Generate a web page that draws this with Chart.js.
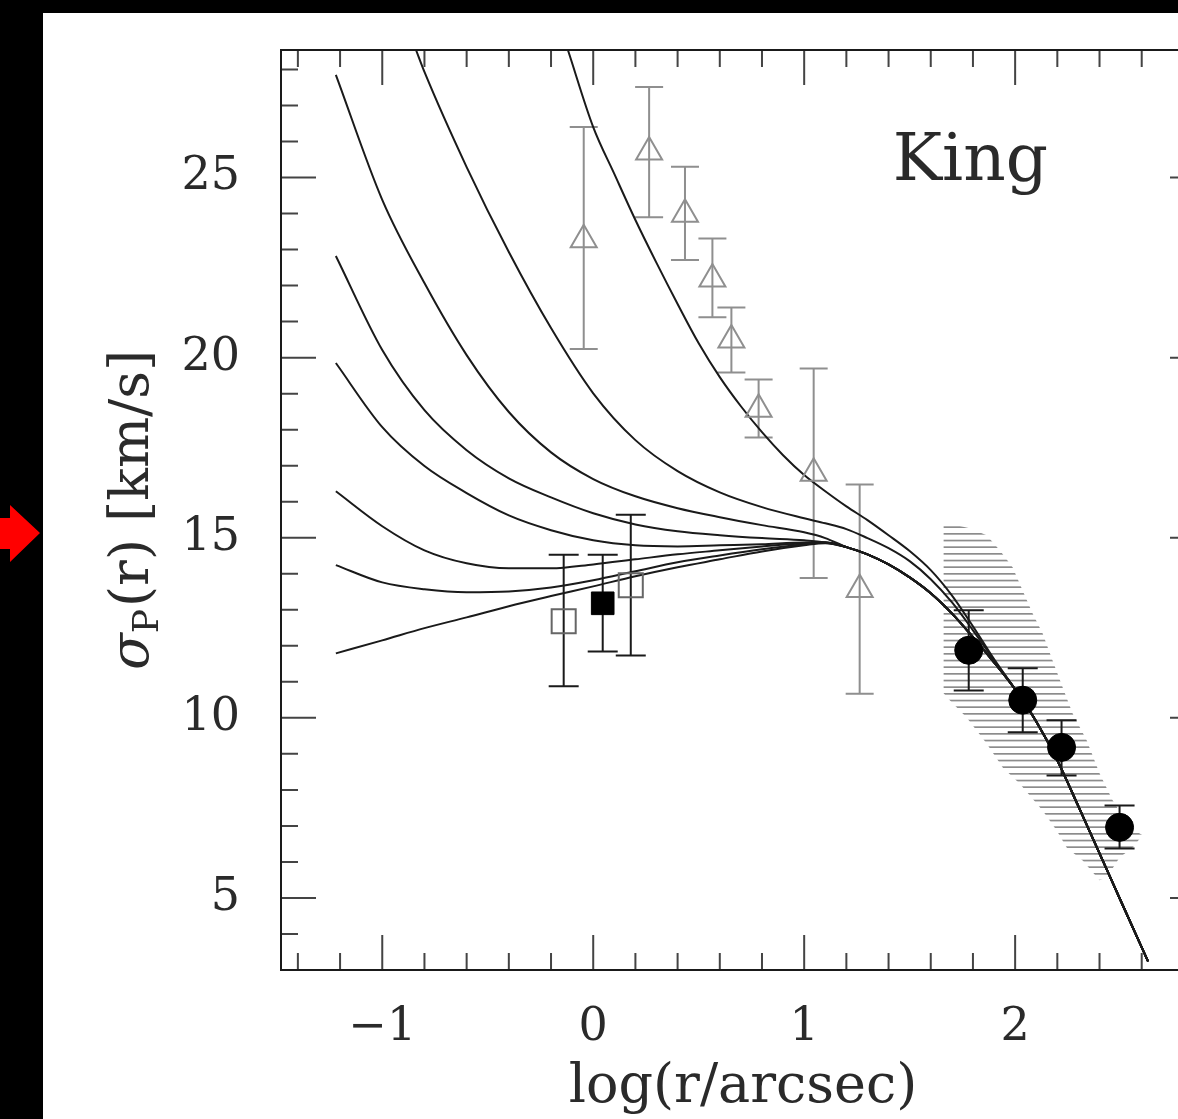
<!DOCTYPE html>
<html>
<head>
<meta charset="utf-8">
<script src="https://cdn.jsdelivr.net/npm/chart.js@4.4.1/dist/chart.umd.min.js"></script>
<style>
  html,body{margin:0;padding:0;background:#000;width:1178px;height:1119px;overflow:hidden;}
  #sheet{position:absolute;left:43px;top:13px;width:1135px;height:1106px;background:#fff;overflow:hidden;}
  #c{position:absolute;left:0;top:0;}
  #arrow{position:absolute;left:-2px;top:505px;width:42px;height:57px;background:#ff0000;
    clip-path:polygon(0 13px,12px 13px,12px 0,42px 28px,12px 57px,12px 44px,0 44px);}
</style>
</head>
<body>
<div id="arrow"></div>
<div id="sheet"><canvas id="c" width="1200" height="1106"></canvas></div>
<script>
/* 速度弥散剖面（King 模型）—— 数值按原图目测读取 */
const X_MAJOR = [-1, 0, 1, 2];
const Y_MAJOR = [5, 10, 15, 20, 25];

// 模型曲线：共用横坐标
const GRID_X  = [-1.22,-1.0,-0.8,-0.6,-0.4,-0.2,0,0.2,0.4,0.6,0.8,1.0,1.1,1.2,1.3,1.4,1.5,1.6,1.7,1.8,1.9,2.0,2.1,2.2,2.3,2.4,2.5,2.63];
const CURVE_A = [27.85,24.38,22.07,20.07,18.49,17.37,16.63,16.15,15.82,15.57,15.35,15.15,14.99,14.74,14.54,14.26,13.90,13.46,12.90,12.24,11.54,10.79,9.90,8.82,7.54,6.24,4.93,3.24];
const CURVE_D = [22.82,20.21,18.54,17.43,16.65,16.12,15.68,15.37,15.18,15.07,14.99,14.93,14.87,14.74,14.54,14.26,13.90,13.46,12.90,12.24,11.54,10.79,9.90,8.82,7.54,6.24,4.93,3.24];
const CURVE_E = [19.85,18.07,16.99,16.24,15.62,15.21,14.93,14.79,14.76,14.79,14.82,14.87,14.87,14.74,14.54,14.26,13.90,13.46,12.90,12.24,11.54,10.79,9.90,8.82,7.54,6.24,4.93,3.24];
const CURVE_F = [16.29,15.32,14.65,14.29,14.15,14.15,14.26,14.40,14.54,14.65,14.76,14.85,14.87,14.74,14.54,14.26,13.90,13.46,12.90,12.24,11.54,10.79,9.90,8.82,7.54,6.24,4.93,3.24];
const CURVE_G = [14.24,13.76,13.57,13.49,13.51,13.62,13.82,14.07,14.32,14.51,14.68,14.82,14.87,14.74,14.54,14.26,13.90,13.46,12.90,12.24,11.54,10.79,9.90,8.82,7.54,6.24,4.93,3.24];
const CURVE_H = [11.79,12.15,12.49,12.79,13.10,13.38,13.65,13.93,14.18,14.40,14.62,14.79,14.85,14.74,14.54,14.26,13.90,13.46,12.90,12.24,11.54,10.79,9.90,8.82,7.54,6.24,4.93,3.24];

// 两条从上边框进入的曲线
const CURVE_B_X = [-0.84,-0.8,-0.6,-0.4,-0.2,0,0.2,0.4,0.6,0.8,1.0,1.1,1.2,1.3,1.4,1.5,1.6,1.7,1.8,1.9,2.0,2.1,2.2,2.3,2.4,2.5,2.63];
const CURVE_B   = [28.54,27.93,25.29,22.93,20.82,19.01,17.71,16.85,16.26,15.85,15.54,15.40,15.24,14.99,14.71,14.35,13.85,13.21,12.43,11.60,10.79,9.90,8.82,7.54,6.24,4.93,3.24];
const CURVE_C_X = [-0.12,0,0.1,0.2,0.3,0.4,0.5,0.6,0.7,0.8,0.9,1.0,1.1,1.2,1.3,1.4,1.5,1.6,1.7,1.8,1.9,2.0,2.1,2.2,2.3,2.4,2.5,2.63];
const CURVE_C   = [28.54,26.40,25.10,23.82,22.63,21.49,20.40,19.46,18.65,17.93,17.29,16.74,16.29,15.87,15.49,15.07,14.63,14.10,13.40,12.54,11.63,10.79,9.90,8.82,7.54,6.24,4.93,3.24];

// 观测点
const TRI_X  = [-0.045,0.265,0.435,0.565,0.655,0.784,1.045,1.263];
const TRI_Y  = [23.27,25.71,23.98,22.18,20.49,18.57,16.79,13.56];
const TRI_HI = [26.40,27.51,25.30,23.31,21.39,19.39,19.70,16.48];
const TRI_LO = [20.24,23.90,22.71,21.12,19.59,17.78,13.88,10.67];

const SQ_OPEN_X  = [-0.140,0.178];
const SQ_OPEN_Y  = [12.68,13.68];
const SQ_OPEN_HI = [14.53,15.64];
const SQ_OPEN_LO = [10.875,11.73];
const SQ_FILL_X  = [0.045];
const SQ_FILL_Y  = [13.18];
const SQ_FILL_HI = [14.53];
const SQ_FILL_LO = [11.84];

const DOT_X  = [1.780,2.036,2.220,2.495];
const DOT_Y  = [11.875,10.49,9.18,6.96];
const DOT_HI = [12.99,11.375,9.93,7.57];
const DOT_LO = [10.76,9.60,8.40,6.375];

// 阴影区域边界（顺时针）
const HATCH_X = [1.661,1.784,1.865,1.927,1.988,2.035,2.083,2.130,2.177,2.225,2.272,2.339,2.400,2.462,2.543,2.604,2.557,2.495,2.434,2.400,2.320,2.244,2.197,2.130,2.021,1.941,1.865,1.770,1.690,1.661,1.661];
const HATCH_Y = [15.43,15.26,15.07,14.65,14.18,13.54,12.90,12.35,11.60,10.85,10.13,9.375,8.46,7.71,6.96,6.74,6.40,6.125,5.57,5.49,6.04,6.40,6.875,7.43,8.18,8.625,9.29,10.01,10.49,10.68,15.43];

const LABEL = {x:1.42, y:24.93, text:"King"};

const pts = (xs, ys) => xs.map((x,i)=>({x:x, y:ys[i]}));

function hatchPattern(){
  const cv = document.createElement("canvas");
  cv.width = 4; cv.height = 20;
  const g = cv.getContext("2d");
  g.fillStyle = "#8c8c8c";
  g.fillRect(0, 0, 4, 1.7);
  g.fillRect(0, 6.7, 4, 1.7);
  g.fillRect(0, 13.3, 4, 1.7);
  return g.createPattern(cv, "repeat");
}

function curve(xs, ys){
  return {data:pts(xs,ys), showLine:true, pointRadius:0, borderColor:"#1a1a1a",
    borderWidth:2, cubicInterpolationMode:"monotone", order:5};
}

function drawBars(ctx, sx, sy, xs, lo, hi, cap, color){
  ctx.strokeStyle = color;
  ctx.lineWidth = 2;
  xs.forEach((v,i)=>{
    const px = sx.getPixelForValue(v);
    const p1 = sy.getPixelForValue(hi[i]), p2 = sy.getPixelForValue(lo[i]);
    ctx.beginPath();
    ctx.moveTo(px, p1); ctx.lineTo(px, p2);
    ctx.moveTo(px-cap, p1); ctx.lineTo(px+cap, p1);
    ctx.moveTo(px-cap, p2); ctx.lineTo(px+cap, p2);
    ctx.stroke();
  });
}

const errorBars = {
  id:"errorBars",
  afterDatasetDraw(chart, args){
    if(args.index!==0) return;   // 画在阴影之后、曲线与标记之前
    const {ctx, scales:{x,y}} = chart;
    ctx.save();
    drawBars(ctx, x, y, TRI_X, TRI_LO, TRI_HI, 14, "#8f8f8f");
    drawBars(ctx, x, y, SQ_OPEN_X, SQ_OPEN_LO, SQ_OPEN_HI, 15, "#1a1a1a");
    drawBars(ctx, x, y, SQ_FILL_X, SQ_FILL_LO, SQ_FILL_HI, 15, "#1a1a1a");
    drawBars(ctx, x, y, DOT_X, DOT_LO, DOT_HI, 15, "#1a1a1a");
    ctx.restore();
  }
};

const frame = {
  id:"frame",
  afterDatasetsDraw(chart){
    const {ctx, chartArea:a, scales:{x,y}} = chart;
    ctx.save();
    ctx.strokeStyle = "#444"; ctx.lineWidth = 2;
    ctx.beginPath();
    for(let i=-7;i<=14;i++){
      const px = x.getPixelForValue(i/5);
      const len = (i%5===0)?35:17;
      ctx.moveTo(px, a.bottom); ctx.lineTo(px, a.bottom-len);
      ctx.moveTo(px, a.top); ctx.lineTo(px, a.top+len);
    }
    for(let v=4;v<=28;v++){
      const py = y.getPixelForValue(v);
      const len = (v%5===0)?35:17;
      ctx.moveTo(a.left, py); ctx.lineTo(a.left+len, py);
      ctx.moveTo(a.right, py); ctx.lineTo(a.right-len, py);
    }
    ctx.stroke();
    ctx.strokeStyle = "#1a1a1a";
    ctx.strokeRect(a.left, a.top, a.right-a.left, a.bottom-a.top);

    // 标注与坐标轴标题
    ctx.fillStyle = "#2a2a2a";
    ctx.textBaseline = "alphabetic";
    ctx.font = "66px 'DejaVu Serif'";
    ctx.textAlign = "left";
    ctx.fillText(LABEL.text, x.getPixelForValue(LABEL.x), y.getPixelForValue(LABEL.y));

    ctx.font = "54px 'DejaVu Serif'";
    ctx.textAlign = "center";
    ctx.fillText("log(r/arcsec)", (a.left+a.right)/2, 1089);

    // 纵轴标题：σ_P(r) [km/s]
    const cy = (a.top+a.bottom)/2;
    ctx.translate(105, cy);
    ctx.rotate(-Math.PI/2);
    ctx.textAlign = "left";
    const fSig = "italic 54px 'DejaVu Serif'", fSub = "36px 'DejaVu Serif'", fMain = "54px 'DejaVu Serif'";
    ctx.font = fSig; const w1 = ctx.measureText("σ").width;
    ctx.font = fSub; const w2 = ctx.measureText("P").width;
    ctx.font = fMain; const w3 = ctx.measureText("(r) [km/s]").width;
    let cx = -(w1+w2+w3+2)/2;
    ctx.font = fSig; ctx.fillText("σ", cx, 0); cx += w1;
    ctx.font = fSub; ctx.fillText("P", cx, 10); cx += w2 + 2;
    ctx.font = fMain; ctx.fillText("(r) [km/s]", cx, 0);
    ctx.restore();
  }
};

// 去掉 Chart.js 为首末刻度标签预留的边距，使绘图区位置固定
function noPad(s){ s.paddingTop = 0; s.paddingBottom = 0; s.paddingLeft = 0; s.paddingRight = 0; }

Chart.defaults.font.family = "'DejaVu Serif'";

new Chart(document.getElementById("c"), {
  type:"scatter",
  data:{datasets:[
    {data:pts(HATCH_X,HATCH_Y), showLine:true, fill:"shape", borderWidth:0,
     pointRadius:0, backgroundColor:hatchPattern(), borderColor:"rgba(0,0,0,0)", order:10},
    curve(GRID_X, CURVE_A),
    curve(CURVE_B_X, CURVE_B),
    curve(CURVE_C_X, CURVE_C),
    curve(GRID_X, CURVE_D),
    curve(GRID_X, CURVE_E),
    curve(GRID_X, CURVE_F),
    curve(GRID_X, CURVE_G),
    curve(GRID_X, CURVE_H),
    {data:pts(TRI_X,TRI_Y), pointStyle:"triangle", pointRadius:15, borderWidth:2,
     borderColor:"#8f8f8f", backgroundColor:"rgba(0,0,0,0)", order:1},
    {data:pts(SQ_OPEN_X,SQ_OPEN_Y), pointStyle:"rect", pointRadius:17, borderWidth:2,
     borderColor:"#666", backgroundColor:"rgba(0,0,0,0)", order:1},
    {data:pts(SQ_FILL_X,SQ_FILL_Y), pointStyle:"rect", pointRadius:16, borderWidth:1,
     borderColor:"#000", backgroundColor:"#000", order:1},
    {data:pts(DOT_X,DOT_Y), pointStyle:"circle", pointRadius:14, borderWidth:1,
     borderColor:"#000", backgroundColor:"#000", order:1}
  ]},
  options:{
    responsive:false, animation:false, devicePixelRatio:1,
    layout:{padding:{top:37, right:38, left:0, bottom:0}},
    plugins:{legend:{display:false}, tooltip:{enabled:false}},
    scales:{
      x:{type:"linear", min:-1.48, max:2.9,
        grid:{display:false}, border:{display:false},
        afterBuildTicks:s=>{ s.ticks = X_MAJOR.map(v=>({value:v})); },
        afterFit:s=>{ s.height = 149; noPad(s); },
        ticks:{padding:22, color:"#2a2a2a", font:{size:46},
          callback:v=> v<0 ? "\u2212"+Math.abs(v) : String(v)}},
      y:{type:"linear", min:3, max:28.54,
        grid:{display:false}, border:{display:false},
        afterBuildTicks:s=>{ s.ticks = Y_MAJOR.map(v=>({value:v})); },
        afterFit:s=>{ s.width = 238; noPad(s); },
        ticks:{padding:33, color:"#2a2a2a", font:{size:46}}}
    }
  },
  plugins:[errorBars, frame]
});
</script>
</body>
</html>
